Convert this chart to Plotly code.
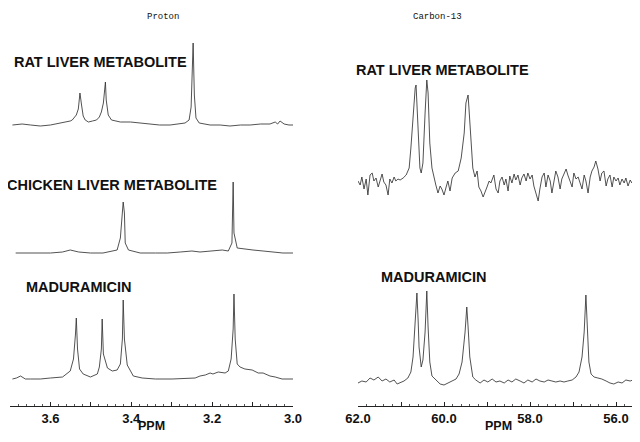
import plotly.graph_objects as go

# ---------------- Proton spectra (ppm, intensity above baseline) ----------------
h_rat_ppm = [3.694, 3.670, 3.649, 3.625, 3.600, 3.575, 3.560, 3.551, 3.546, 3.541, 3.536, 3.531,
             3.527, 3.523, 3.519, 3.514, 3.506, 3.496, 3.486, 3.479, 3.474, 3.469, 3.464, 3.462,
             3.457, 3.449, 3.440, 3.427, 3.402, 3.380, 3.353, 3.330, 3.304, 3.280, 3.267, 3.257,
             3.252, 3.247, 3.244, 3.240, 3.232, 3.205, 3.180, 3.156, 3.130, 3.106, 3.080, 3.057,
             3.044, 3.038, 3.032, 3.022, 3.010, 3.000]
h_rat_int = [0, 1, 0, -1, 0, 2, 3, 4, 5, 7, 10, 16,
             32, 20, 9, 5, 3, 4, 5, 8, 13, 22, 43, 25,
             10, 5, 4, 3, 3, 2, 1, 0, 0, 1, 2, 5,
             18, 82, 30, 7, 2, 0, 0, -1, 0, 0, 1, 1,
             3, 1, 4, 1, 0, 0]

h_chk_ppm = [3.686, 3.640, 3.600, 3.570, 3.551, 3.530, 3.501, 3.470, 3.435, 3.427, 3.422, 3.420,
             3.417, 3.415, 3.407, 3.378, 3.340, 3.311, 3.279, 3.250, 3.230, 3.193, 3.175, 3.160,
             3.151, 3.148, 3.146, 3.138, 3.123, 3.099, 3.074, 3.049, 3.025, 3.000]
h_chk_int = [0, 0, 0, 1, 3, 1, 0, 0, 3, 15, 45, 51,
             40, 10, 3, 0, 0, 0, 1, 2, 1, 2, 3, 2,
             10, 71, 20, 5, 4, 3, 2, 1, 0, 0]

h_mad_ppm = [3.694, 3.684, 3.674, 3.662, 3.649, 3.625, 3.600, 3.570, 3.551, 3.543, 3.538, 3.536,
             3.533, 3.528, 3.519, 3.501, 3.484, 3.479, 3.474, 3.472, 3.469, 3.459, 3.447, 3.435,
             3.427, 3.422, 3.420, 3.417, 3.410, 3.402, 3.395, 3.373, 3.340, 3.299, 3.265, 3.242,
             3.230, 3.217, 3.205, 3.198, 3.185, 3.168, 3.160, 3.153, 3.148, 3.146, 3.143, 3.138,
             3.131, 3.119, 3.101, 3.086, 3.074, 3.057, 3.044, 3.027, 3.000]
h_mad_int = [0, 1, 3, 0, 0, 0, 1, 2, 8, 20, 45, 61,
             30, 10, 5, 2, 5, 12, 30, 60, 25, 11, 8, 9,
             15, 40, 79, 40, 14, 8, 3, 1, 0, 0, 1, 1,
             3, 4, 6, 5, 7, 6, 8, 20, 50, 85, 40, 15,
             12, 10, 9, 6, 6, 3, 2, 0, 0]

# ---------------- Carbon-13 spectra ----------------
c_rat_ppm = [62.00, 61.95, 61.91, 61.86, 61.81, 61.77, 61.72, 61.67, 61.63, 61.58, 61.53, 61.49,
             61.44, 61.40, 61.35, 61.30, 61.26, 61.21, 61.16, 61.12, 61.07, 61.02, 60.95, 60.88,
             60.81, 60.77, 60.72, 60.67, 60.65, 60.63, 60.58, 60.56, 60.53, 60.49, 60.44, 60.40,
             60.37, 60.33, 60.28, 60.23, 60.19, 60.14, 60.09, 60.05, 60.00, 59.95, 59.91, 59.86,
             59.81, 59.74, 59.67, 59.60, 59.53, 59.49, 59.44, 59.42, 59.37, 59.33, 59.28, 59.23,
             59.19, 59.14, 59.09, 59.05, 59.00, 58.95, 58.91, 58.84, 58.79, 58.74, 58.70, 58.65,
             58.60, 58.56, 58.51, 58.47, 58.42, 58.37, 58.33, 58.28, 58.23, 58.19, 58.14, 58.09,
             58.05, 58.00, 57.95, 57.91, 57.86, 57.81, 57.77, 57.72, 57.67, 57.63, 57.58, 57.53,
             57.49, 57.44, 57.40, 57.35, 57.30, 57.26, 57.21, 57.16, 57.12, 57.07, 57.02, 56.98,
             56.93, 56.88, 56.84, 56.79, 56.74, 56.70, 56.65, 56.60, 56.56, 56.51, 56.47, 56.42,
             56.37, 56.33, 56.28, 56.23, 56.19, 56.14, 56.09, 56.05, 56.00, 55.95, 55.91, 55.86,
             55.81, 55.77, 55.72, 55.67, 55.63, 55.58, 55.53, 55.49, 55.44]
c_rat_int = [2, -2, 6, -6, 4, -12, 8, 10, 2, 5, -4, 3,
             9, 1, -2, -12, 4, 0, 6, 2, 4, 3, 5, 8,
             15, 35, 70, 95, 98, 80, 30, 15, 10, 20, 70, 103,
             90, 40, 15, 4, -2, -10, -3, -6, -12, -4, 2, -8,
             5, 10, 12, 25, 50, 80, 88, 75, 40, 15, 6, 12,
             -4, -8, -14, -10, -4, 2, 0, 8, -6, -10, 2, 6,
             -2, 4, -8, 7, 0, 9, 3, 8, -2, 5, 9, 2,
             10, 4, 8, -3, -12, -18, -6, 6, 10, -4, 8, 2,
             -10, 4, 12, 6, -6, 4, 9, 14, 8, 2, -4, 10,
             4, 6, 0, -6, 8, 2, -10, 6, 12, 16, 22, 14,
             2, 10, 12, -3, 4, 8, -4, 6, 2, 5, -2, 4,
             0, 5, -3, 3, 0, 4, -2, 1, 0]

c_mad_ppm = [62.00, 61.91, 61.81, 61.72, 61.63, 61.53, 61.44, 61.35, 61.26, 61.16, 61.09, 61.02,
             60.93, 60.84, 60.77, 60.72, 60.67, 60.63, 60.60, 60.58, 60.53, 60.49, 60.44, 60.40,
             60.37, 60.33, 60.28, 60.19, 60.09, 60.00, 59.91, 59.81, 59.72, 59.65, 59.58, 59.51,
             59.47, 59.44, 59.40, 59.33, 59.26, 59.16, 59.07, 58.98, 58.88, 58.79, 58.70, 58.60,
             58.51, 58.42, 58.33, 58.23, 58.14, 58.05, 57.95, 57.86, 57.77, 57.67, 57.58, 57.49,
             57.40, 57.30, 57.21, 57.12, 57.02, 56.93, 56.86, 56.79, 56.74, 56.70, 56.67, 56.63,
             56.58, 56.51, 56.42, 56.33, 56.23, 56.14, 56.05, 55.95, 55.86, 55.77, 55.67, 55.58,
             55.49, 55.44]
c_mad_int = [-1, 1, 0, 4, 2, 5, 1, 3, 0, 2, -2, -1,
             1, 4, 10, 25, 55, 89, 60, 35, 15, 22, 50, 91,
             55, 20, 6, 2, -2, -3, -1, 1, 3, 8, 20, 50,
             75, 55, 25, 5, 2, -1, 2, 0, 3, 0, 1, -1,
             2, 0, 3, 1, -1, 2, 0, 3, 1, 0, 2, 1,
             0, 1, 0, 1, 2, 5, 10, 25, 50, 87, 50, 20,
             8, 5, 4, 3, 1, -1, -2, 0, -1, 2, 1, 3,
             4, 5]

# Tick labels
proton_ticks = [3.7, 3.6, 3.5, 3.4, 3.3, 3.2, 3.1, 3.0]
proton_ticktext = ["", "3.6", "", "3.4", "", "3.2", "", "3.0"]
carbon_ticks = [62.0, 61.0, 60.0, 59.0, 58.0, 57.0, 56.0]
carbon_ticktext = ["62.0", "", "60.0", "", "58.0", "", "56.0"]

# ---------------- layout constants ----------------
# The page body has an 8 px margin, so the figure is sized to fit the 640x442 window
# exactly and every reference pixel position is shifted by that margin.
BODY = 8
W, H = 640 - 2 * BODY, 442 - 2 * BODY
AXIS_ROW = 406 - BODY  # row of the x axes inside the figure
LINE = dict(color="#333333", width=0.85)

fig = go.Figure()
for xs, ys, off in [(h_rat_ppm, h_rat_int, 281), (h_chk_ppm, h_chk_int, 153), (h_mad_ppm, h_mad_int, 27)]:
    fig.add_trace(go.Scatter(x=xs, y=[v + off for v in ys], mode="lines", line=LINE,
                             xaxis="x", yaxis="y", showlegend=False, hoverinfo="skip"))
for xs, ys, off in [(c_rat_ppm, c_rat_int, 223), (c_mad_ppm, c_mad_int, 24)]:
    fig.add_trace(go.Scatter(x=xs, y=[v + off for v in ys], mode="lines", line=LINE,
                             xaxis="x2", yaxis="y", showlegend=False, hoverinfo="skip"))


def px(x):
    return (x - BODY) / W


def py(y):
    return 1 - (y - BODY) / AXIS_ROW


tickfont = dict(family="Liberation Sans, Arial, sans-serif", size=13, color="#111", weight="bold")
fig.update_layout(
    width=W, height=H,
    margin=dict(l=0, r=0, t=0, b=H - AXIS_ROW, pad=0, autoexpand=False),
    paper_bgcolor="white", plot_bgcolor="white",
    xaxis=dict(domain=[px(10), px(293)], range=[3.7, 3.0], showgrid=False, zeroline=False,
               automargin=False,
               showline=True, linecolor="#222", linewidth=1,
               tickmode="array", tickvals=proton_ticks, ticktext=proton_ticktext,
               ticks="inside", ticklen=4, tickcolor="#222", tickfont=tickfont,
               minor=dict(tickmode="linear", tick0=3.0, dtick=0.02, ticks="inside", ticklen=2,
                          tickcolor="#555"),
               anchor="y"),
    xaxis2=dict(domain=[px(358), 1.0], range=[62.0, 62.0 - (640 - BODY - 358) / 43.0],
                showgrid=False, zeroline=False, automargin=False,
                showline=True, linecolor="#222", linewidth=1,
                tickmode="array", tickvals=carbon_ticks, ticktext=carbon_ticktext,
                ticks="inside", ticklen=4, tickcolor="#222", tickfont=tickfont,
                minor=dict(tickmode="linear", tick0=56.0, dtick=0.2, ticks="inside", ticklen=2,
                           tickcolor="#555"),
                anchor="y"),
    yaxis=dict(range=[0, AXIS_ROW], visible=False, fixedrange=True, automargin=False),
)

label_font = dict(family="Liberation Sans, Arial, sans-serif", size=14.5, color="#111")
ppm_font = dict(family="Liberation Sans, Arial, sans-serif", size=12.5, color="#111")
mono_font = dict(family="Liberation Mono, Courier New, monospace", size=9, color="#111")
annots = [
    ("Proton", 163, 17, "center", "middle", mono_font),
    ("Carbon-13", 437, 17, "center", "middle", mono_font),
    ("<b>RAT LIVER METABOLITE</b>", 13, 62, "left", "middle", label_font),
    ("<b>CHICKEN LIVER METABOLITE</b>", 6, 185, "left", "middle", label_font),
    ("<b>MADURAMICIN</b>", 25, 287, "left", "middle", label_font),
    ("<b>RAT LIVER METABOLITE</b>", 355, 70, "left", "middle", label_font),
    ("<b>MADURAMICIN</b>", 380, 277, "left", "middle", label_font),
    ("<b>PPM</b>", 151, 434, "center", "bottom", ppm_font),
    ("<b>PPM</b>", 498, 434, "center", "bottom", ppm_font),
]
for text, x, y, xa, ya, font in annots:
    fig.add_annotation(text=text, x=px(x), y=py(y), xref="paper", yref="paper",
                       xanchor=xa, yanchor=ya, showarrow=False, font=font, borderpad=0)

fig.write_html("out.html")
